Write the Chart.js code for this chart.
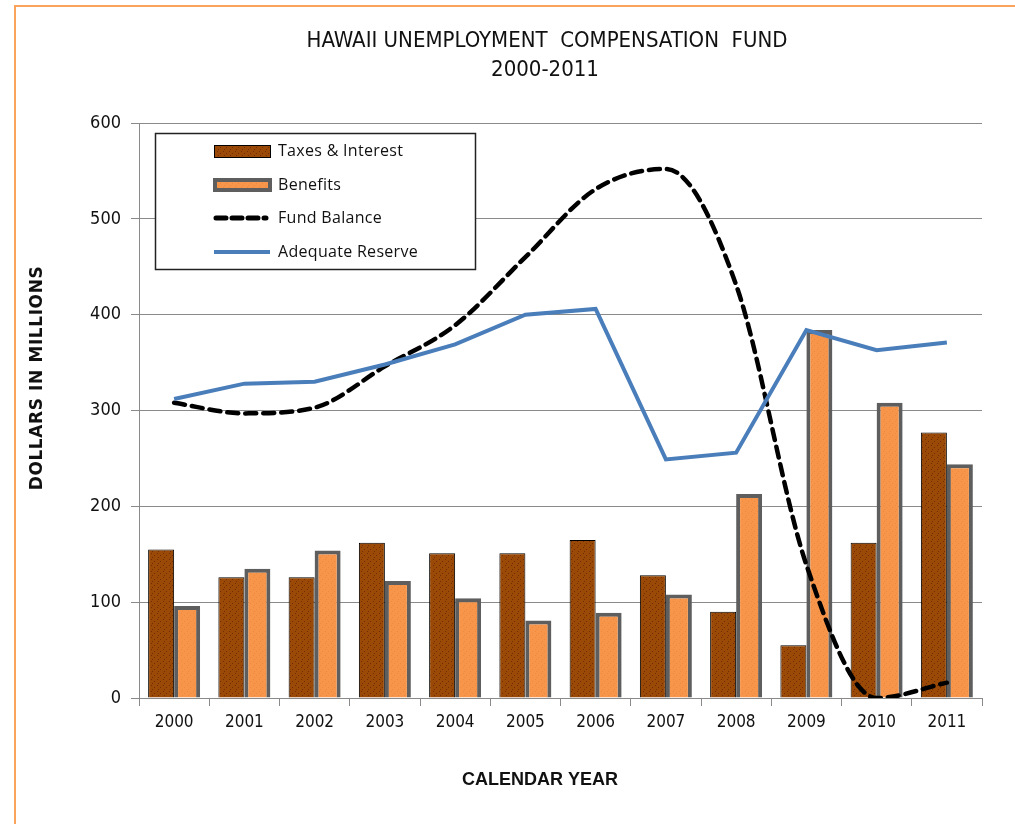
<!DOCTYPE html>
<html>
<head>
<meta charset="utf-8">
<script src="https://cdn.jsdelivr.net/npm/chart.js@4.4.1/dist/chart.umd.min.js"></script>
<style>
  html, body { margin: 0; padding: 0; background: #fff; }
  #wrap { position: relative; width: 1015px; height: 824px; overflow: hidden; }
  #frame { position: absolute; left: 14px; top: 5px; width: 1010px; height: 830px;
           border-top: 2px solid #F9A35C; border-left: 2px solid #F9A35C; }
  #c { position: absolute; left: 0; top: 0; }
</style>
</head>
<body>
<div id="wrap">
  <div id="frame"></div>
  <canvas id="c" width="1015" height="824"></canvas>
</div>
<script>
const years = ['2000','2001','2002','2003','2004','2005','2006','2007','2008','2009','2010','2011'];
const taxesInterest = [155, 126, 126, 162, 151, 151, 165, 128, 90, 55, 162, 277];
const benefits = [96, 135, 154, 122, 104, 81, 89, 108, 213, 384, 308, 244];
const fundBalance = [308, 297, 303, 346, 389, 460, 531, 552, 431, 139, 0, 16];
const adequateReserve = [312, 328, 330, 348, 369, 400, 406, 249, 256, 384, 363, 371];
const yTicks = [0, 100, 200, 300, 400, 500, 600];
const titleLines = ['HAWAII UNEMPLOYMENT  COMPENSATION  FUND', '2000-2011'];
const xTitle = 'CALENDAR YEAR';
const yTitle = 'DOLLARS IN MILLIONS';

const NARROW = "'Liberation Sans Narrow', 'DejaVu Sans Condensed', 'Liberation Sans', sans-serif";

function makePattern(base, dot) {
  const p = document.createElement('canvas');
  p.width = 6; p.height = 6;
  const g = p.getContext('2d');
  g.fillStyle = base; g.fillRect(0, 0, 6, 6);
  g.fillStyle = dot;
  g.fillRect(1, 1, 1, 1); g.fillRect(4, 3, 1, 1); g.fillRect(2, 5, 1, 1);
  return document.getElementById('c').getContext('2d').createPattern(p, 'repeat');
}
const brownFill = makePattern('#9A4A06', '#6E2E02');
const orangeFill = makePattern('#F7964A', '#EC8A3E');

const textPlugin = {
  id: 'texts',
  afterDraw(chart) {
    const ctx = chart.ctx;
    ctx.save();
    ctx.fillStyle = '#111';
    ctx.textAlign = 'center';
    ctx.textBaseline = 'middle';
    ctx.font = "22px " + NARROW;
    ctx.fillText(titleLines[0], 547, 41);
    ctx.fillText(titleLines[1], 545, 70);
    ctx.font = "bold 18px 'Liberation Sans', Arial, sans-serif";
    ctx.fillText(xTitle, 540, 780);
    ctx.translate(38, 378);
    ctx.rotate(-Math.PI / 2);
    ctx.font = "bold 17px 'DejaVu Sans', sans-serif";
    ctx.letterSpacing = '0.6px';
    ctx.fillText(yTitle, 0, 0);
    ctx.restore();
  }
};

const legendBoxPlugin = {
  id: 'legendBox',
  afterDraw(chart) {
    const ctx = chart.ctx;
    const ds = chart.data.datasets;
    ctx.save();
    ctx.fillStyle = '#fff';
    ctx.fillRect(155, 133, 320, 136);
    ctx.strokeStyle = '#222';
    ctx.lineWidth = 1.5;
    ctx.strokeRect(155.5, 133.5, 320, 136);
    const rows = [151, 185, 218, 252];
    const sx = 214, ex = 270;
    ctx.fillStyle = ds[0].backgroundColor;
    ctx.fillRect(sx, rows[0] - 6, ex - sx, 12);
    ctx.strokeStyle = '#000'; ctx.lineWidth = 1;
    ctx.strokeRect(sx + 0.5, rows[0] - 5.5, ex - sx, 12);
    ctx.fillStyle = ds[1].borderColor;
    ctx.fillRect(sx - 1, rows[1] - 7, ex - sx + 3, 14);
    ctx.fillStyle = ds[1].backgroundColor;
    ctx.fillRect(sx + 3, rows[1] - 3, ex - sx - 5, 6);
    ctx.strokeStyle = ds[2].borderColor; ctx.lineWidth = 5;
    ctx.setLineDash([10, 6]); ctx.lineCap = 'round';
    ctx.beginPath(); ctx.moveTo(sx + 2, rows[2]); ctx.lineTo(ex - 4, rows[2]); ctx.stroke();
    ctx.setLineDash([]); ctx.lineCap = 'butt';
    ctx.strokeStyle = ds[3].borderColor; ctx.lineWidth = 4;
    ctx.beginPath(); ctx.moveTo(sx, rows[3]); ctx.lineTo(ex, rows[3]); ctx.stroke();
    ctx.fillStyle = '#111';
    ctx.font = "16px 'Open Sans', sans-serif";
    ctx.letterSpacing = '0.3px';
    ctx.textBaseline = 'middle';
    ctx.textAlign = 'left';
    ds.forEach((d, i) => ctx.fillText(d.label, 278, rows[i]));
    ctx.restore();
  }
};

new Chart(document.getElementById('c'), {
  type: 'bar',
  data: {
    labels: years,
    datasets: [
      { label: 'Taxes & Interest', data: taxesInterest, backgroundColor: brownFill,
        borderColor: '#000', borderWidth: 1, order: 2,
        categoryPercentage: 0.74, barPercentage: 1.0 },
      { label: 'Benefits', data: benefits, backgroundColor: orangeFill,
        borderColor: '#5E5E5E', borderWidth: 4, order: 3,
        categoryPercentage: 0.74, barPercentage: 1.0 },
      { type: 'line', label: 'Fund Balance', data: fundBalance, borderColor: '#000',
        borderWidth: 4.5, borderDash: [11, 7], borderCapStyle: 'round',
        cubicInterpolationMode: 'monotone',
        pointRadius: 0, fill: false, order: 1 },
      { type: 'line', label: 'Adequate Reserve', data: adequateReserve, borderColor: '#4A7EBB',
        borderWidth: 4, tension: 0, pointRadius: 0, fill: false, order: 0 }
    ]
  },
  options: {
    responsive: false,
    animation: false,
    layout: { padding: { left: 20, right: 33, top: 123, bottom: 20 } },
    plugins: {
      legend: { display: false },
      tooltip: { enabled: false },
      title: { display: false }
    },
    scales: {
      x: {
        grid: { display: true, drawOnChartArea: false, drawTicks: true, tickLength: 8,
                color: '#8a8a8a', offset: true },
        border: { display: true, color: '#8a8a8a', width: 1 },
        ticks: { color: '#111', font: { family: NARROW, size: 17 }, padding: 6 },
        afterFit(s) { s.height = 824 - 20 - 698; }
      },
      y: {
        min: 0, max: 600,
        afterBuildTicks(s) { s.ticks = yTicks.map(v => ({ value: v })); },
        grid: { color: '#8a8a8a', lineWidth: 1, drawTicks: true, tickLength: 8 },
        border: { display: true, color: '#8a8a8a', width: 1 },
        ticks: { color: '#111', font: { family: NARROW, size: 18 }, padding: 10 },
        afterFit(s) { s.width = 139 - 20; }
      }
    }
  },
  plugins: [legendBoxPlugin, textPlugin]
});
</script>
</body>
</html>
